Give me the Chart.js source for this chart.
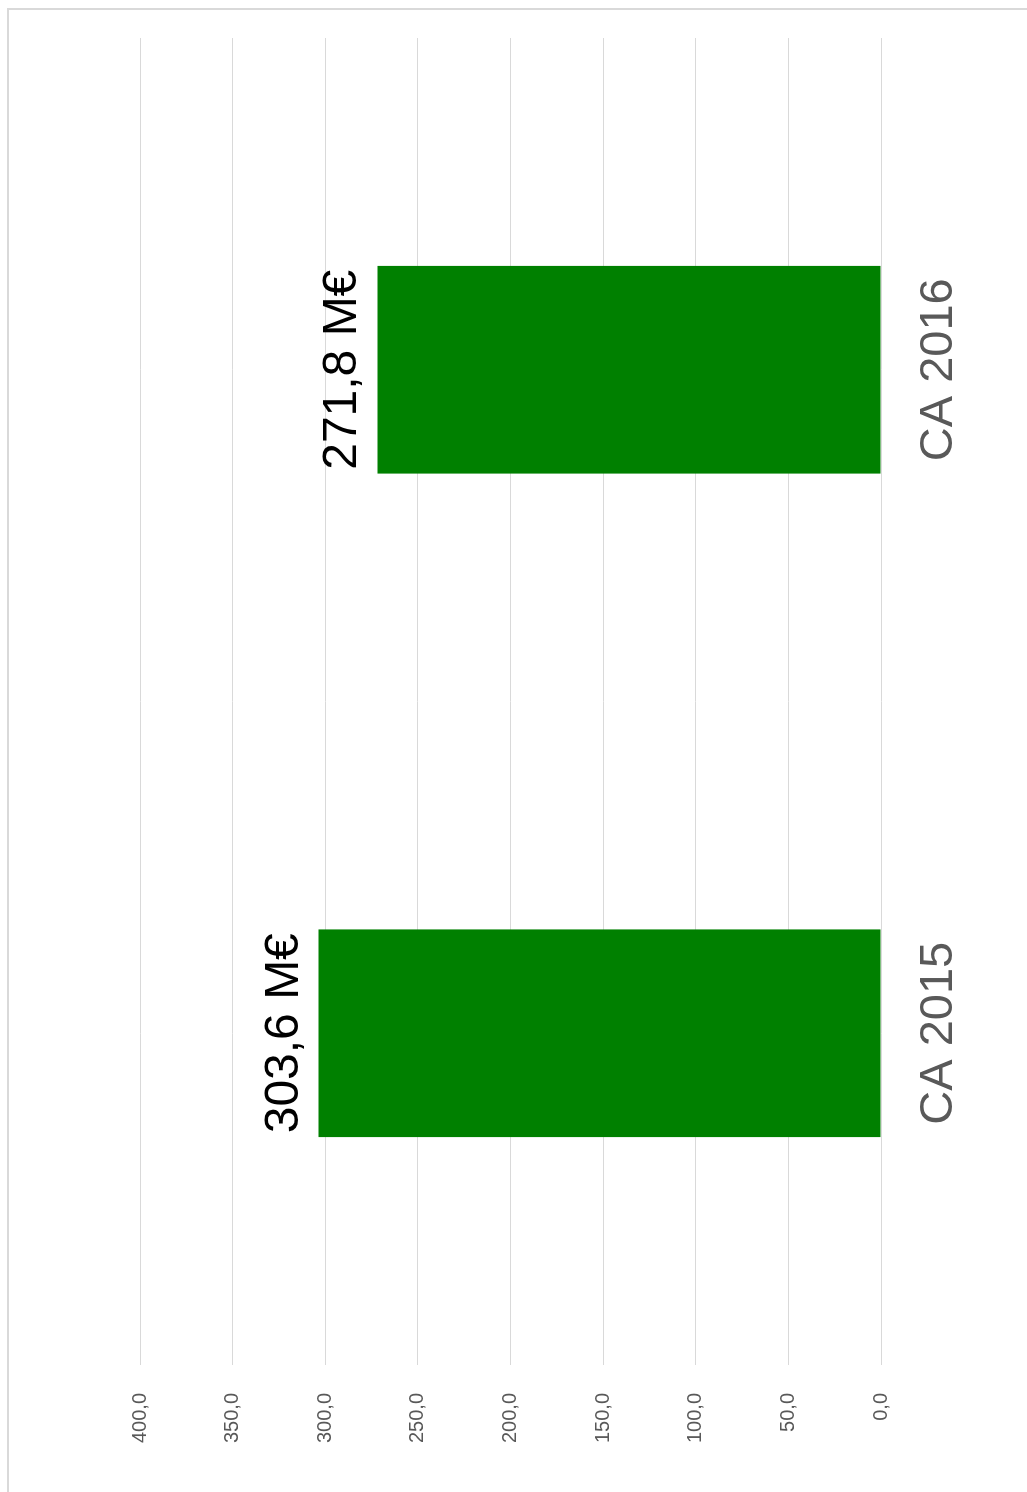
<!DOCTYPE html>
<html>
<head>
<meta charset="utf-8">
<script src="https://cdn.jsdelivr.net/npm/chart.js@4.4.1/dist/chart.umd.min.js"></script>
<style>
  html, body { margin: 0; padding: 0; background: #fff; }
  body { width: 1027px; height: 1492px; position: relative; overflow: hidden; }
  #frame { position: absolute; left: 7px; top: 8px; right: 0; bottom: 0;
           border-top: 2px solid #d9d9d9; border-left: 2px solid #d9d9d9; }
  #wrap { position: absolute; left: 0; top: 0; width: 1492px; height: 1027px;
          transform-origin: 0 0; transform: translate(0, 1492px) rotate(-90deg); }
</style>
</head>
<body>
<div id="frame"></div>
<div id="wrap"><canvas id="c" width="1492" height="1027"></canvas></div>
<script>
const categories = ["CA 2015", "CA 2016"];
const values = [303.6, 271.8];
const dataLabels = ["303,6 M€", "271,8 M€"];
const axisMin = 0;
const axisMax = 400;
const axisStep = 50;

const FONT = "'Liberation Sans', Arial, sans-serif";

const labelPlugin = {
  id: 'barLabels',
  afterDatasetsDraw(chart) {
    const ctx = chart.ctx;
    const meta = chart.getDatasetMeta(0);
    ctx.save();
    ctx.font = "48px " + FONT;
    ctx.fillStyle = "#000000";
    ctx.textAlign = "center";
    ctx.textBaseline = "alphabetic";
    meta.data.forEach((bar, i) => {
      ctx.fillText(dataLabels[i], bar.x, bar.y - 21);
    });
    ctx.restore();
  }
};

new Chart(document.getElementById('c'), {
  type: 'bar',
  data: {
    labels: categories,
    datasets: [{
      data: values,
      backgroundColor: '#008000',
      borderWidth: 0,
      barPercentage: 0.313,
      categoryPercentage: 1.0
    }]
  },
  options: {
    responsive: false,
    animation: false,
    devicePixelRatio: 1,
    layout: { padding: { top: 140, right: 38, left: 0, bottom: 0 } },
    plugins: { legend: { display: false }, tooltip: { enabled: false } },
    scales: {
      x: {
        grid: { display: false, drawTicks: false },
        border: { display: false },
        ticks: {
          color: '#595959',
          font: { family: FONT, size: 47 },
          padding: 30,
          maxRotation: 0, minRotation: 0
        },
        afterFit(scale) { scale.height = 146; }
      },
      y: {
        min: axisMin, max: axisMax,
        grid: { color: '#d9d9d9', lineWidth: 1, drawTicks: false },
        border: { display: false },
        ticks: {
          stepSize: axisStep,
          color: '#595959',
          font: { family: FONT, size: 20 },
          padding: 28,
          callback: v => v.toFixed(1).replace('.', ',')
        },
        afterFit(scale) { scale.width = 127; }
      }
    }
  },
  plugins: [labelPlugin]
});
</script>
</body>
</html>
